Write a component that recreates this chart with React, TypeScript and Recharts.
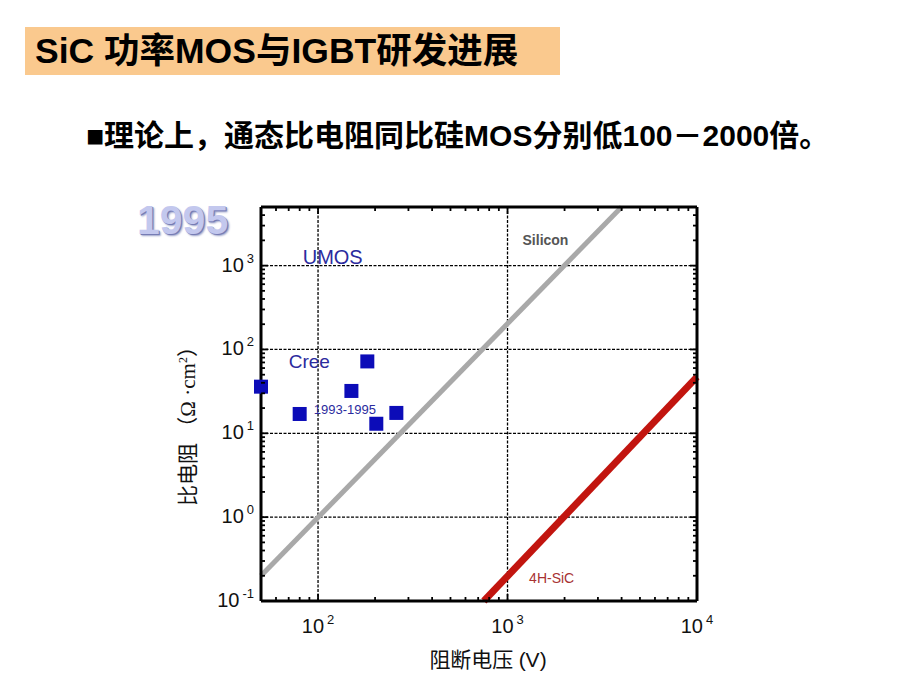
import React from 'react';
import {
  ComposedChart,
  Line,
  Scatter,
  XAxis,
  YAxis,
  ReferenceLine,
  ReferenceDot,
} from 'recharts';

// blocking voltage (V) -> specific on-resistance (Ω·cm²), log-log
const siliconLimit = [
  { v: 50, r: 0.2 },
  { v: 4000, r: 5000 },
];

const sicLimit = [
  { v: 750, r: 0.1 },
  { v: 10000, r: 47 },
];

// Cree UMOS devices, 1993-1995
const creeUmos = [
  { v: 50, r: 36 },
  { v: 80, r: 17 },
  { v: 150, r: 32 },
  { v: 182, r: 72 },
  { v: 203, r: 13 },
  { v: 259, r: 17.5 },
];

const xTicks = [
  60, 70, 80, 90, 100, 200, 300, 400, 500, 600, 700, 800, 900, 1000, 2000, 3000, 4000, 5000,
  6000, 7000, 8000, 9000, 10000,
];
const yTicks = [
  0.1, 0.2, 0.3, 0.4, 0.5, 0.6, 0.7, 0.8, 0.9, 1, 2, 3, 4, 5, 6, 7, 8, 9, 10, 20, 30, 40, 50, 60,
  70, 80, 90, 100, 200, 300, 400, 500, 600, 700, 800, 900, 1000, 2000, 3000, 4000,
];
const xMajor = [100, 1000, 10000];
const yMajor = [0.1, 1, 10, 100, 1000];
const xGrid = [100, 1000];
const yGrid = [1, 10, 100, 1000];

const sans = "'Liberation Sans', Arial, 'Noto Sans CJK SC', sans-serif";
const serif = "'Liberation Serif', 'Noto Sans CJK SC', serif";

const expOf = (v: number) => String(Math.round(Math.log10(v)));

const BottomTick = (props: any) => {
  const { x, y, payload } = props;
  const major = xMajor.includes(payload.value);
  return (
    <g>
      <line x1={x} y1={y} x2={x} y2={y - (major ? 7 : 4)} stroke="#000" strokeWidth={1.8} />
      {major && (
        <text x={x} y={y + 32} textAnchor="middle" fontSize={20} fontFamily={sans} fill="#111">
          10
          <tspan dx={3} dy={-9} fontSize={13}>
            {expOf(payload.value)}
          </tspan>
        </text>
      )}
    </g>
  );
};

const TopTick = (props: any) => {
  const { x, y, payload } = props;
  const major = xMajor.includes(payload.value);
  return <line x1={x} y1={y} x2={x} y2={y + (major ? 7 : 4)} stroke="#000" strokeWidth={1.8} />;
};

const LeftTick = (props: any) => {
  const { x, y, payload } = props;
  const major = yMajor.includes(payload.value);
  return (
    <g>
      <line x1={x} y1={y} x2={x + (major ? 7 : 4)} y2={y} stroke="#000" strokeWidth={1.8} />
      {major && (
        <text x={x - 7} y={y + 6} textAnchor="end" fontSize={20} fontFamily={sans} fill="#111">
          10
          <tspan dx={3} dy={-9} fontSize={13}>
            {expOf(payload.value)}
          </tspan>
        </text>
      )}
    </g>
  );
};

const RightTick = (props: any) => {
  const { x, y, payload } = props;
  const major = yMajor.includes(payload.value);
  return <line x1={x} y1={y} x2={x - (major ? 7 : 4)} y2={y} stroke="#000" strokeWidth={1.8} />;
};

const Note = (props: any) => {
  const { viewBox, text, fill, size, weight } = props;
  return (
    <text
      x={viewBox.x}
      y={viewBox.y}
      fill={fill}
      fontSize={size}
      fontWeight={weight || 400}
      fontFamily={sans}
      dominantBaseline="central"
    >
      {text}
    </text>
  );
};

const Square = (props: any) => {
  const { cx, cy } = props;
  return <rect x={cx - 7} y={cy - 7} width={14} height={14} fill="#0c0cb8" />;
};

const axisLine = { stroke: '#000', strokeWidth: 3 };

export default function App() {
  return (
    <div
      style={{
        position: 'absolute',
        left: 0,
        top: 0,
        width: 920,
        height: 690,
        background: '#fff',
        overflow: 'hidden',
      }}
    >
      <div style={{ position: 'absolute', left: 0, top: 0 }}>
        <ComposedChart width={920} height={690} margin={{ top: 206, right: 222, bottom: 39, left: 201 }}>
          <XAxis
            xAxisId="b"
            dataKey="v"
            type="number"
            scale="log"
            domain={[50, 10000]}
            ticks={xTicks}
            interval={0}
            tickSize={0}
            tickMargin={0}
            tickLine={false}
            axisLine={axisLine}
            height={50}
            tick={<BottomTick />}
          />
          <XAxis
            xAxisId="t"
            dataKey="v"
            orientation="top"
            type="number"
            scale="log"
            domain={[50, 10000]}
            allowDataOverflow
            ticks={xTicks}
            interval={0}
            tickSize={0}
            tickMargin={0}
            tickLine={false}
            axisLine={axisLine}
            height={1}
            tick={<TopTick />}
          />
          <YAxis
            yAxisId="l"
            dataKey="r"
            type="number"
            scale="log"
            domain={[0.1, 5000]}
            ticks={yTicks}
            interval={0}
            tickSize={0}
            tickMargin={0}
            tickLine={false}
            axisLine={axisLine}
            width={60}
            tick={<LeftTick />}
          />
          <YAxis
            yAxisId="r"
            dataKey="r"
            orientation="right"
            type="number"
            scale="log"
            domain={[0.1, 5000]}
            allowDataOverflow
            ticks={yTicks}
            interval={0}
            tickSize={0}
            tickMargin={0}
            tickLine={false}
            axisLine={axisLine}
            width={1}
            tick={<RightTick />}
          />

          {/* dashed decade grid */}
          {xGrid.map((g) => (
            <ReferenceLine key={'x' + g} xAxisId="b" yAxisId="l" x={g} stroke="#000" strokeWidth={1.3} strokeDasharray="3 1.5" />
          ))}
          {yGrid.map((g) => (
            <ReferenceLine key={'y' + g} xAxisId="b" yAxisId="l" y={g} stroke="#000" strokeWidth={1.3} strokeDasharray="3 1.5" />
          ))}

          {/* invisible copy so the mirrored top/right frame axes get drawn */}
          <Line
            xAxisId="t"
            yAxisId="r"
            data={siliconLimit}
            dataKey="r"
            stroke="none"
            dot={false}
            activeDot={false}
            isAnimationActive={false}
          />

          <Line
            xAxisId="b"
            yAxisId="l"
            data={siliconLimit}
            dataKey="r"
            type="linear"
            stroke="#a9a9a9"
            strokeWidth={5}
            dot={false}
            activeDot={false}
            isAnimationActive={false}
          />
          <Line
            xAxisId="b"
            yAxisId="l"
            data={sicLimit}
            dataKey="r"
            type="linear"
            stroke="#c2150f"
            strokeWidth={7}
            dot={false}
            activeDot={false}
            isAnimationActive={false}
          />
          <Scatter
            xAxisId="b"
            yAxisId="l"
            data={creeUmos}
            dataKey="r"
            shape={<Square />}
            isAnimationActive={false}
          />

          <ReferenceDot xAxisId="b" yAxisId="l" x={83} y={1260} r={0} fill="none" stroke="none"
            label={<Note text="UMOS" fill="#2b2b9e" size={20} />} />
          <ReferenceDot xAxisId="b" yAxisId="l" x={70} y={71} r={0} fill="none" stroke="none"
            label={<Note text="Cree" fill="#2b2b9e" size={19} />} />
          <ReferenceDot xAxisId="b" yAxisId="l" x={95} y={19.4} r={0} fill="none" stroke="none"
            label={<Note text="1993-1995" fill="#2b2b9e" size={13} />} />
          <ReferenceDot xAxisId="b" yAxisId="l" x={1200} y={2000} r={0} fill="none" stroke="none"
            label={<Note text="Silicon" fill="#555555" size={14} weight={700} />} />
          <ReferenceDot xAxisId="b" yAxisId="l" x={1300} y={0.19} r={0} fill="none" stroke="none"
            label={<Note text="4H-SiC" fill="#a83232" size={14} />} />
        </ComposedChart>
      </div>

      {/* slide title */}
      <div style={{ position: 'absolute', left: 25, top: 27, width: 535, height: 48, background: '#fac98e' }} />
      <div
        style={{
          position: 'absolute',
          left: 35,
          top: 27,
          height: 48,
          lineHeight: '48px',
          fontSize: 35.5,
          fontWeight: 700,
          fontFamily: sans,
          color: '#000',
          whiteSpace: 'nowrap',
        }}
      >
        SiC 功率MOS与IGBT研发进展
      </div>
      <div
        style={{
          position: 'absolute',
          left: 86,
          top: 120,
          lineHeight: '32px',
          fontSize: 30,
          fontWeight: 700,
          fontFamily: sans,
          color: '#000',
          whiteSpace: 'nowrap',
        }}
      >
        ■理论上，通态比电阻同比硅MOS分别低100－2000倍。
      </div>

      {/* year badge */}
      <div
        style={{
          position: 'absolute',
          left: 137,
          top: 197,
          fontSize: 41,
          fontWeight: 700,
          fontFamily: sans,
          color: '#c3c8ee',
          textShadow: '1px 1px 0 #767cb4, 2px 2px 2px #9aa0c8',
          lineHeight: '46px',
        }}
      >
        1995
      </div>

      {/* axis titles */}
      <div
        style={{
          position: 'absolute',
          left: 186,
          top: 421,
          transform: 'translate(-50%, -50%) rotate(-90deg)',
          fontSize: 21,
          fontFamily: serif,
          color: '#111',
          whiteSpace: 'nowrap',
        }}
      >
        比电阻 （Ω ·cm<sup style={{ fontSize: 12 }}>2</sup>）
      </div>
      <div
        style={{
          position: 'absolute',
          left: 488,
          top: 658,
          transform: 'translate(-50%, -50%)',
          fontSize: 21,
          fontFamily: serif,
          color: '#111',
          whiteSpace: 'nowrap',
        }}
      >
        阻断电压 <span style={{ fontFamily: sans }}>(V)</span>
      </div>
    </div>
  );
}
